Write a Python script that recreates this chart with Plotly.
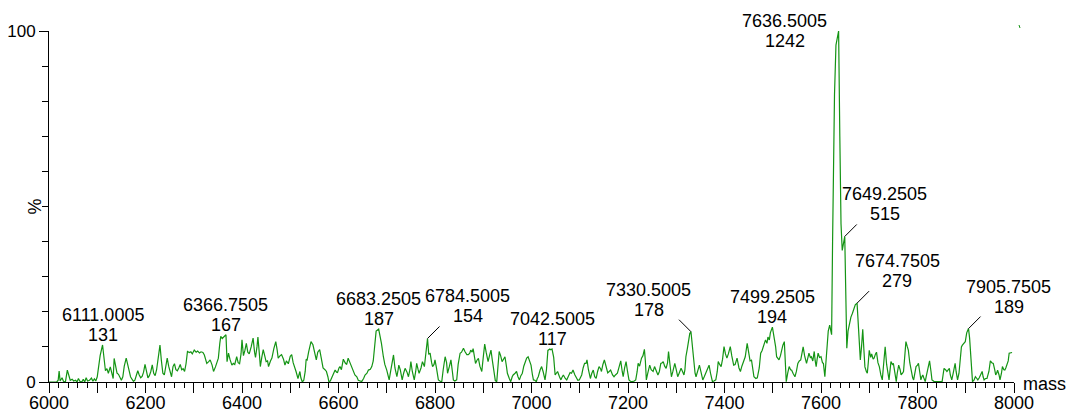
import plotly.graph_objects as go

# Spectrum trace: mass (Da) and relative intensity (%), read point by point
mass = [
    6000, 6010, 6016, 6019, 6021, 6023, 6027, 6030, 6034, 6038, 6041, 6044, 6048, 6051, 6055, 6058,
    6061, 6064, 6068, 6071, 6074, 6077, 6080, 6084, 6088, 6091, 6094, 6097, 6100, 6103, 6106,
    6114, 6117, 6120, 6123, 6127, 6130, 6133, 6135, 6138, 6141, 6144, 6147, 6150, 6153, 6156,
    6160, 6163, 6166, 6169, 6172, 6175, 6178, 6181, 6184, 6187, 6190, 6193, 6196, 6199, 6202,
    6205, 6208, 6211, 6214, 6217, 6220, 6223, 6226, 6230, 6233, 6236, 6239, 6242, 6245, 6248,
    6251, 6254, 6257, 6260, 6263, 6266, 6269, 6272, 6275, 6278, 6281, 6284, 6287, 6291, 6294,
    6297, 6301, 6305, 6308, 6312, 6315, 6319, 6322, 6325, 6327, 6331, 6334, 6338, 6341, 6345,
    6348, 6351, 6354, 6356, 6359, 6362, 6369, 6372, 6375, 6379, 6382, 6385, 6389, 6392, 6395,
    6398, 6400, 6403, 6406, 6409, 6412, 6415, 6419, 6423, 6426, 6428, 6431, 6433, 6436, 6438,
    6441, 6444, 6447, 6450, 6453, 6455, 6459, 6462, 6466, 6470, 6473, 6475, 6479, 6482, 6486,
    6489, 6492, 6496, 6500, 6503, 6506, 6509, 6512, 6516, 6518, 6520, 6522, 6525, 6528, 6531,
    6533, 6535, 6538, 6541, 6543, 6547, 6550, 6554, 6557, 6561, 6564, 6568, 6572, 6575, 6578,
    6580, 6583, 6586, 6589, 6593, 6596, 6598, 6601, 6603, 6606, 6610, 6614, 6617, 6620, 6624,
    6627, 6631, 6634, 6638, 6641, 6645, 6648, 6652, 6655, 6659, 6662, 6666, 6669, 6672, 6675,
    6678, 6686, 6689, 6693, 6696, 6700, 6703, 6705, 6708, 6711, 6714, 6717, 6721, 6723, 6725,
    6728, 6732, 6735, 6738, 6742, 6745, 6748, 6750, 6753, 6757, 6760, 6762, 6765, 6767, 6771,
    6774, 6778, 6780, 6787, 6790, 6793, 6795, 6798, 6800, 6803, 6807, 6811, 6814, 6817, 6821,
    6824, 6826, 6830, 6833, 6836, 6838, 6841, 6845, 6848, 6852, 6855, 6859, 6862, 6866, 6869,
    6872, 6874, 6877, 6879, 6882, 6884, 6887, 6890, 6893, 6897, 6900, 6903, 6906, 6910, 6913,
    6916, 6919, 6923, 6925, 6928, 6931, 6933, 6936, 6939, 6942, 6945, 6948, 6950, 6954, 6957,
    6960, 6962, 6966, 6969, 6972, 6975, 6978, 6981, 6984, 6986, 6990, 6993, 6996, 6999, 7002,
    7004, 7007, 7010, 7012, 7014, 7018, 7021, 7024, 7028, 7031, 7034, 7038, 7040, 7046, 7049,
    7052, 7054, 7058, 7061, 7063, 7066, 7070, 7073, 7076, 7080, 7083, 7086, 7090, 7093, 7096,
    7099, 7102, 7104, 7107, 7110, 7113, 7115, 7118, 7122, 7125, 7128, 7131, 7134, 7137, 7140,
    7143, 7145, 7148, 7151, 7155, 7158, 7161, 7164, 7168, 7171, 7174, 7178, 7182, 7185, 7188,
    7190, 7193, 7196, 7199, 7202, 7205, 7209, 7213, 7216, 7219, 7221, 7224, 7228, 7231, 7234,
    7236, 7238, 7241, 7245, 7248, 7252, 7255, 7258, 7262, 7265, 7268, 7271, 7273, 7276, 7279,
    7282, 7284, 7287, 7290, 7293, 7297, 7300, 7303, 7306, 7310, 7313, 7316, 7318, 7320, 7323,
    7325, 7328, 7333, 7336, 7339, 7341, 7345, 7348, 7351, 7355, 7358, 7361, 7364, 7368, 7371,
    7375, 7378, 7382, 7385, 7387, 7390, 7393, 7396, 7399, 7402, 7405, 7408, 7412, 7415, 7419,
    7422, 7426, 7430, 7433, 7436, 7440, 7443, 7447, 7450, 7453, 7456, 7459, 7461, 7465, 7468,
    7472, 7475, 7478, 7480, 7483, 7485, 7488, 7490, 7493, 7495, 7503, 7506, 7508, 7511, 7513,
    7516, 7518, 7521, 7524, 7526, 7528, 7531, 7534, 7537, 7539, 7542, 7546, 7549, 7552, 7555,
    7558, 7561, 7563, 7566, 7570, 7573, 7575, 7578, 7580, 7583, 7586, 7588, 7590, 7592, 7594,
    7597, 7600, 7603, 7605, 7608, 7611, 7615, 7618, 7620, 7622, 7624, 7628, 7631, 7639, 7641.5,
    7644, 7646.5, 7651, 7653.5, 7656, 7659, 7662, 7665, 7668, 7671, 7677, 7679.5, 7681.5, 7684,
    7686.5, 7689, 7691, 7694, 7696, 7698, 7700, 7703, 7705, 7708, 7710, 7713, 7715, 7718, 7721,
    7724, 7727, 7731, 7733, 7736, 7741, 7745, 7748, 7750, 7753, 7756, 7758, 7761, 7764, 7766,
    7769, 7771, 7774, 7776, 7779, 7781, 7784, 7787, 7790, 7792, 7795, 7797, 7800, 7802, 7805,
    7807, 7809, 7811, 7813, 7816, 7818, 7820, 7823, 7825, 7828, 7830, 7834, 7837, 7842, 7847,
    7851, 7853, 7855, 7858, 7861, 7864, 7866, 7868, 7871, 7874, 7876, 7878, 7880, 7883, 7886,
    7888, 7891, 7893, 7896, 7899, 7902, 7908, 7910, 7912, 7914, 7917, 7920, 7923, 7925, 7928,
    7931, 7934, 7936, 7938, 7941, 7944, 7948, 7951, 7954, 7957, 7960, 7962, 7964, 7966, 7969,
    7971, 7974, 7976, 7979, 7981, 7983, 7985, 7988, 7990, 7993, 7996,
]
percent = [
    0, 0, 0, 0.5, 3.1, 0.3, 1.2, 0.2, 0, 3.4, 2, 0.5, 0.8, 0.3, 0.5, 0,
    1, 0.2, 0, 0.8, 0, 1.2, 0.3, 0.5, 1.1, 0.2, 0.9, 0.3, 1.5, 4.5, 7.5,
    6.5, 3.2, 3.8, 2.5, 4.3, 2.8, 1, 6.7, 5, 2.5, 2.2, 1.2, 0.5, 1.5, 4.5,
    6.8, 5, 2.5, 1.5, 0.8, 0.2, 0.5, 2, 3.2, 2, 1.2, 1.6, 2.8, 5, 3.2,
    1.2, 1.8, 3, 4.9, 2.5, 1.8, 3.5, 6.5, 10.5, 6, 2.5, 2, 4.5, 6.8, 4.5,
    2.8, 1.5, 4.4, 5.2, 3.5, 3.2, 4, 5, 3.5, 3.8, 3, 5.2, 8.7, 8.4, 8.6,
    8, 9.1, 8.5, 8.8, 8.3, 8.6, 8.4, 7.7, 6.5, 5.3, 5.8, 6.3, 4.8, 3, 4.3,
    5.5, 6.8, 11, 13, 12.4, 12.8, 5.8, 8.2, 6.5, 4.8, 5.3, 5, 7.2, 5.5, 5.2,
    8, 12, 7.5, 9, 11, 8.5, 8, 10, 12.5, 8.5, 7, 10, 12.8, 8, 4.4,
    7, 9.2, 7.5, 5.8, 6, 4.4, 6, 6.8, 9.5, 11.5, 9, 6.8, 7.5, 7.8, 6.5,
    4.8, 6, 5.2, 7.3, 7.8, 5.5, 4.4, 3, 1, 2.5, 3, 1.2, 0, 0.5, 3,
    6.5, 6.3, 8.5, 11, 11.5, 10.6, 9, 6.3, 8.5, 9.2, 7, 4, 3.5, 3, 1.5,
    0.1, 0.3, 1.2, 2.5, 3.4, 2.8, 2.7, 4, 4.4, 3.5, 6.5, 5.4, 5, 6.8, 5.5,
    4.4, 3.5, 2, 1.5, 0.5, 0.3, 0.1, 1, 2, 2.5, 3.4, 3.6, 4.4, 6, 11,
    14.5, 13.5, 11, 7.2, 5, 3.4, 1.2, 0.6, 3, 5.5, 7.7, 4, 1.5, 3, 4.8,
    3.5, 0.6, 2.5, 3.9, 2.8, 1.5, 3.5, 5.8, 3, 0.6, 3, 5.3, 3.5, 2.5, 4,
    5.8, 4.4, 7.5, 8, 8.1, 5.5, 4.4, 5, 6.3, 4, 0.6, 0.2, 0.1, 3.5, 7.2,
    5.5, 2.5, 4.5, 6.3, 3, 0.6, 0.3, 0.6, 5, 8.2, 8.5, 9.6, 8.7, 7.8, 7.8,
    8.2, 9.1, 8.5, 9.5, 6, 5.3, 6.2, 6.7, 4.5, 3, 7, 10.8, 8.5, 5.8, 7.5,
    9.1, 6, 1.5, 0.4, 0.1, 5, 8.7, 7.5, 5.8, 6.5, 7.2, 4.5, 2.5, 1, 0.1,
    1.5, 2, 2.5, 3, 1.5, 0.6, 1.8, 2.5, 4.5, 5.3, 6.8, 7.2, 6.2, 4.8, 2,
    0.6, 0.5, 0.1, 1, 1.5, 3.5, 4.4, 3, 0.6, 3.5, 9, 9.4, 9.2, 7, 2,
    2.8, 3, 1.5, 0.6, 1.3, 2, 1, 0.6, 1.5, 2.7, 2.5, 3.4, 2, 1, 0.5,
    0.6, 1.5, 2, 4, 5.3, 5.3, 6.3, 3.5, 1, 2.5, 3.4, 1.5, 1, 3, 4.4,
    3.8, 3, 5, 6.3, 4.2, 2.6, 3, 3.4, 2, 1.5, 2, 2.5, 4.5, 6, 3,
    1.5, 4, 5.8, 3, 0.6, 0.2, 0.1, 0.3, 0.6, 3, 5.3, 4.5, 6.8, 7.5, 9.3,
    6, 0.6, 2.5, 4.8, 3.5, 3, 4.4, 3.3, 2, 3, 5.3, 5.5, 5.8, 4.5, 3.9,
    5.5, 8.7, 5, 1.5, 3, 5.3, 3.5, 1.5, 2.5, 3.9, 3, 2, 3.5, 7.2, 9.5,
    11.8, 13.8, 11, 5, 2.5, 1.5, 3.5, 4.8, 3, 0.6, 1.5, 2.5, 3, 4.8, 2.5,
    0.1, 0.3, 0.6, 3, 5.8, 5, 4.4, 6.5, 10.1, 8, 6.8, 8, 10.1, 7.5, 4.8,
    5, 6.8, 4, 3, 4.5, 6.3, 7.2, 11, 9, 6, 6.2, 3, 1.5, 1, 1.2,
    4, 8.2, 9, 10, 11, 12, 11, 12.8, 12, 14, 12.8, 10, 7.2, 6.5, 6.3,
    7.5, 9, 10.5, 11.5, 5, 0.1, 2.5, 4.4, 3.5, 3.4, 2.5, 1.5, 3, 5.3, 6,
    6.3, 8.5, 10, 7.5, 5.3, 7, 8.2, 7, 7.2, 6, 8.7, 6, 4.4, 6.5, 8.2,
    7, 7.2, 5.5, 5.3, 1.5, 7.7, 14.5, 16.2, 14.5, 13.5, 40, 82, 96, 70, 45,
    37.5, 39.5, 28, 9.6, 14.5, 17, 18.5, 19.5, 21, 22, 17, 13, 6.3, 10,
    15, 9, 4.3, 3, 2.5, 5.5, 9, 7, 8, 6.5, 6.8, 8, 8.5, 5.5, 4.3,
    2, 0.6, 7, 10, 5, 0.6, 5.8, 5, 5.3, 2.5, 0.1, 2.5, 4.8, 3.5, 2,
    2.5, 3, 8, 11.5, 10, 9.1, 5.5, 3, 1.2, 0.6, 3, 4.4, 4.8, 5.3, 2.5,
    0.6, 1.5, 2, 1.2, 0.1, 1.5, 3, 5, 6, 3, 0.6, 0.2, 0.1, 0.1, 0.1,
    0.1, 2, 3.9, 3.5, 3, 3.5, 3.9, 2, 0.6, 2.5, 4, 5.3, 3, 0.6, 2.5,
    6, 10, 10.5, 11, 11.5, 14, 12.5, 9, 3, 0.1, 0.5, 1.5, 1, 0.6, 1.2,
    2, 3, 1.5, 0.6, 1, 1, 3, 6, 5.5, 5.3, 3.5, 2, 2.5, 3.4, 2,
    0.6, 2.5, 4.4, 3.5, 3.4, 4, 4.8, 6, 8.2, 8.3, 8.4,
]

# Labelled peaks: centroid mass and raw intensity (counts)
peak_mass = [6111.0005, 6366.7505, 6683.2505, 6784.5005, 7042.5005,
             7330.5005, 7499.2505, 7636.5005, 7649.2505, 7674.7505, 7905.7505]
peak_counts = [131, 167, 187, 154, 117, 178, 194, 1242, 515, 279, 189]
peak_text = ["6111.0005", "6366.7505", "6683.2505", "6784.5005", "7042.5005",
             "7330.5005", "7499.2505", "7636.5005", "7649.2505", "7674.7505", "7905.7505"]
base_peak = max(peak_counts)
peak_pct = [c / base_peak * 100 for c in peak_counts]

x_ticks = list(range(6000, 8001, 100))
x_ticktext = [str(v) if v % 200 == 0 else "" for v in x_ticks]

# Merge the labelled peak apexes into the trace
pts = sorted(list(zip(mass, percent)) + list(zip(peak_mass, peak_pct)))
xs = [p[0] for p in pts]
ys = [p[1] for p in pts]

FONT = "Liberation Sans, Arial, sans-serif"
GREEN = "#149414"
LABEL_SIZE = 18

fig = go.Figure()
fig.add_trace(go.Scatter(x=xs, y=ys, mode="lines",
                         line=dict(color=GREEN, width=1.2), cliponaxis=False,
                         hoverinfo="skip", showlegend=False))

# Label placement per peak:
#   "up"   -> text straight above the apex
#   "lead" -> short diagonal leader, text up-right
#   "left" -> short diagonal leader, text up-left
#   "flag" -> horizontal leader from text on the left
placement = {
    6111.0005: "up", 6366.7505: "up", 6683.2505: "up",
    6784.5005: "lead", 7042.5005: "up", 7330.5005: "left",
    7499.2505: "up", 7636.5005: "flag", 7649.2505: "lead",
    7674.7505: "lead", 7905.7505: "lead",
}

annotations = []
shapes = []
line_style = dict(color="black", width=1)
for m, pct, c, t in zip(peak_mass, peak_pct, peak_counts, peak_text):
    style = placement[m]
    if style == "up":
        dx, base = 0, -1
    elif style in ("lead", "left"):
        sgn = 1 if style == "lead" else -1
        dx, base = (40 if sgn > 0 else -42), 11
        shapes.append(dict(type="line", xref="x", yref="y",
                           xsizemode="pixel", ysizemode="pixel",
                           xanchor=m, yanchor=pct,
                           x0=0, y0=0, x1=12 * sgn, y1=12, line=line_style))
    else:
        dx, base = -54, -21
        shapes.append(dict(type="line", xref="x", yref="y",
                           xsizemode="pixel", ysizemode="pixel",
                           xanchor=m, yanchor=pct,
                           x0=-13, y0=1, x1=-1, y1=1, line=line_style))
    annotations.append(dict(x=m, y=pct, xref="x", yref="y", text=str(c),
                            showarrow=False, xanchor="center", yanchor="bottom",
                            xshift=dx, yshift=base, borderpad=0,
                            font=dict(family=FONT, size=LABEL_SIZE, color="black")))
    annotations.append(dict(x=m, y=pct, xref="x", yref="y", text=t,
                            showarrow=False, xanchor="center", yanchor="bottom",
                            xshift=dx, yshift=base + 20, borderpad=0,
                            font=dict(family=FONT, size=LABEL_SIZE, color="black")))

annotations.append(dict(x=1, y=0, xref="paper", yref="paper", text="mass",
                        showarrow=False, xanchor="left", yanchor="middle",
                        xshift=7, yshift=-2, font=dict(family=FONT, size=18, color="black")))
annotations.append(dict(x=0, y=0.5, xref="paper", yref="paper", text="%",
                        showarrow=False, textangle=-90, xanchor="center", yanchor="middle",
                        xshift=-15, font=dict(family=FONT, size=18, color="black")))

# Small stray mark beyond the top-right corner
shapes.append(dict(type="line", xref="paper", yref="paper",
                   xsizemode="pixel", ysizemode="pixel", xanchor=1, yanchor=1,
                   x0=5, y0=6, x1=6, y1=3, line=dict(color=GREEN, width=1)))

fig.update_layout(
    width=1070, height=413,
    margin=dict(l=49, r=56, t=31, b=31),
    paper_bgcolor="white", plot_bgcolor="white",
    font=dict(family=FONT, size=18, color="black"),
    showlegend=False,
    annotations=annotations,
    shapes=shapes,
    xaxis=dict(range=[6000, 8000], showgrid=False, zeroline=False, automargin=False,
               showline=True, linecolor="black", linewidth=1,
               ticks="outside", ticklen=10, tickwidth=1, tickcolor="black",
               tickmode="array", tickvals=x_ticks, ticktext=x_ticktext,
               ticklabelstandoff=-6,
               tickfont=dict(family=FONT, size=18, color="black"),
               minor=dict(ticks="outside", ticklen=5, tickwidth=1, tickcolor="black",
                          tickmode="linear", tick0=6000, dtick=20, showgrid=False)),
    yaxis=dict(range=[0, 100], showgrid=False, zeroline=False, automargin=False,
               showline=True, linecolor="black", linewidth=1,
               ticks="outside", ticklen=9, tickwidth=1, tickcolor="black",
               tickmode="array", tickvals=[0, 100], ticktext=["0", "100"],
               tickfont=dict(family=FONT, size=17, color="black"),
               minor=dict(ticks="outside", ticklen=6, tickwidth=1, tickcolor="black",
                          tickmode="linear", tick0=0, dtick=10, showgrid=False)),
)

fig.write_html("out.html")
